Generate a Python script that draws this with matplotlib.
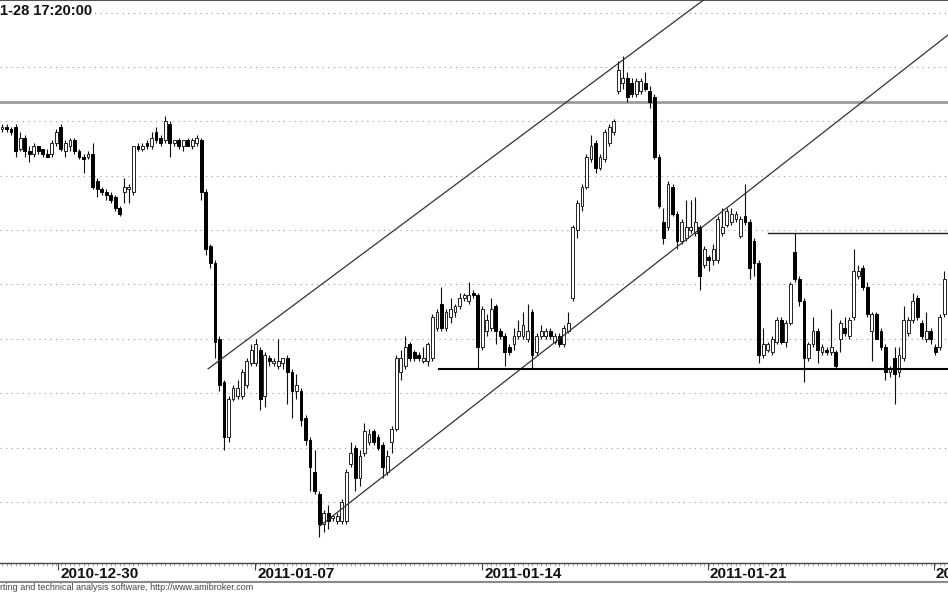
import matplotlib
matplotlib.use("Agg")
import matplotlib.pyplot as plt
from matplotlib.lines import Line2D
from matplotlib import transforms
import numpy as np

plt.rcParams['font.family'] = ['Liberation Sans', 'DejaVu Sans']

# intraday bars, values (grid every 20 pts)
opens = [
    2777, 2778, 2777, 2778, 2770, 2774, 2769, 2768, 2771, 2770,
    2768, 2768, 2772, 2778, 2769, 2771, 2773, 2769, 2767, 2767,
    2768, 2758, 2755, 2754, 2753, 2752, 2748, 2754, 2755, 2754,
    2771, 2770, 2772, 2771, 2776, 2774, 2773, 2779, 2772, 2773,
    2771, 2773, 2771, 2772, 2773, 2754, 2734, 2728, 2700, 2684,
    2664, 2678, 2679, 2679, 2683, 2691, 2691, 2696, 2679, 2693,
    2691, 2690, 2691, 2693, 2688, 2681, 2681, 2671, 2663, 2651,
    2643, 2632, 2636, 2634, 2633, 2633, 2633, 2654, 2660, 2649,
    2658, 2662, 2666, 2664, 2661, 2651, 2662, 2667, 2688, 2690,
    2698, 2695, 2694, 2692, 2692, 2693, 2704, 2713, 2704, 2708,
    2710, 2712, 2715, 2714, 2717, 2716, 2697, 2703, 2704, 2712,
    2703, 2701, 2697, 2698, 2701, 2701, 2700, 2710, 2695, 2701,
    2701, 2703, 2699, 2701, 2698, 2703, 2715, 2740, 2749, 2756,
    2766, 2772, 2763, 2766, 2772, 2776, 2791, 2794, 2796, 2794,
    2790, 2791, 2794, 2791, 2789, 2767, 2743, 2741, 2756, 2746,
    2736, 2737, 2740, 2739, 2741, 2727, 2730, 2729, 2729, 2739,
    2742, 2743, 2744, 2738, 2745, 2743, 2736, 2728, 2694, 2696,
    2695, 2699, 2707, 2699, 2706, 2732, 2722, 2714, 2693, 2698,
    2703, 2695, 2696, 2695, 2695, 2700, 2704, 2701, 2708, 2723,
    2726, 2719, 2703, 2709, 2703, 2697, 2688, 2693, 2688, 2693,
    2702, 2707, 2715, 2706, 2700, 2703, 2697, 2697, 2709,
]
highs = [
    2779, 2779, 2778, 2779, 2776, 2775, 2771, 2772, 2771, 2770,
    2770, 2773, 2777, 2779, 2773, 2774, 2774, 2770, 2768, 2769,
    2772, 2759, 2756, 2755, 2754, 2753, 2749, 2759, 2757, 2771,
    2772, 2772, 2773, 2776, 2778, 2775, 2782, 2780, 2773, 2774,
    2773, 2774, 2774, 2775, 2774, 2755, 2735, 2729, 2701, 2685,
    2679, 2683, 2685, 2689, 2693, 2698, 2700, 2697, 2695, 2694,
    2693, 2700, 2693, 2694, 2689, 2687, 2682, 2672, 2664, 2659,
    2644, 2637, 2639, 2635, 2636, 2641, 2652, 2662, 2661, 2659,
    2669, 2667, 2667, 2665, 2662, 2659, 2668, 2694, 2696, 2701,
    2699, 2696, 2695, 2697, 2699, 2709, 2711, 2719, 2711, 2715,
    2713, 2717, 2717, 2721, 2718, 2717, 2712, 2709, 2715, 2713,
    2704, 2702, 2698, 2704, 2707, 2710, 2713, 2711, 2702, 2705,
    2704, 2704, 2702, 2702, 2705, 2710, 2742, 2751, 2757, 2768,
    2775, 2773, 2768, 2777, 2779, 2781, 2802, 2804, 2798, 2796,
    2796, 2796, 2798, 2793, 2790, 2768, 2748, 2758, 2757, 2747,
    2744, 2751, 2751, 2752, 2742, 2734, 2731, 2735, 2745, 2748,
    2748, 2748, 2747, 2745, 2757, 2744, 2737, 2729, 2704, 2699,
    2701, 2708, 2708, 2707, 2721, 2739, 2723, 2715, 2699, 2708,
    2704, 2698, 2697, 2711, 2696, 2707, 2708, 2708, 2733, 2727,
    2727, 2721, 2710, 2710, 2704, 2698, 2690, 2697, 2697, 2712,
    2708, 2717, 2716, 2707, 2710, 2704, 2698, 2709, 2725,
]
lows = [
    2776, 2776, 2775, 2767, 2769, 2767, 2765, 2767, 2768, 2767,
    2767, 2767, 2771, 2769, 2767, 2769, 2768, 2766, 2761, 2766,
    2755, 2752, 2753, 2751, 2750, 2747, 2745, 2750, 2750, 2753,
    2769, 2769, 2770, 2770, 2772, 2771, 2772, 2767, 2771, 2770,
    2769, 2771, 2770, 2771, 2751, 2731, 2726, 2693, 2681, 2659,
    2662, 2677, 2678, 2678, 2682, 2690, 2690, 2674, 2675, 2690,
    2690, 2689, 2689, 2676, 2671, 2678, 2668, 2661, 2644, 2643,
    2627, 2629, 2630, 2633, 2632, 2632, 2632, 2653, 2644, 2646,
    2657, 2661, 2661, 2659, 2649, 2650, 2658, 2666, 2685, 2689,
    2692, 2692, 2692, 2691, 2690, 2692, 2703, 2703, 2703, 2706,
    2708, 2711, 2714, 2713, 2715, 2689, 2696, 2701, 2703, 2698,
    2700, 2690, 2694, 2696, 2700, 2700, 2699, 2689, 2694, 2700,
    2700, 2700, 2698, 2697, 2697, 2702, 2714, 2737, 2747, 2755,
    2765, 2761, 2762, 2765, 2771, 2775, 2790, 2792, 2787, 2789,
    2789, 2790, 2791, 2785, 2766, 2748, 2735, 2740, 2745, 2733,
    2735, 2736, 2739, 2738, 2718, 2726, 2725, 2727, 2728, 2738,
    2741, 2742, 2743, 2737, 2742, 2722, 2723, 2691, 2693, 2695,
    2694, 2698, 2698, 2697, 2705, 2721, 2712, 2684, 2692, 2697,
    2691, 2694, 2694, 2694, 2689, 2695, 2701, 2700, 2707, 2722,
    2718, 2708, 2692, 2700, 2696, 2685, 2686, 2676, 2686, 2692,
    2701, 2706, 2707, 2700, 2699, 2698, 2694, 2696, 2708,
]
closes = [
    2778, 2777, 2776, 2769, 2774, 2769, 2768, 2771, 2769, 2768,
    2767, 2772, 2776, 2770, 2772, 2773, 2769, 2767, 2766, 2768,
    2756, 2755, 2754, 2753, 2751, 2748, 2746, 2756, 2756, 2771,
    2770, 2771, 2771, 2774, 2773, 2772, 2780, 2772, 2773, 2771,
    2773, 2771, 2773, 2774, 2754, 2733, 2728, 2699, 2683, 2664,
    2678, 2682, 2682, 2688, 2692, 2696, 2698, 2678, 2694, 2692,
    2692, 2692, 2693, 2688, 2681, 2683, 2670, 2663, 2653, 2644,
    2632, 2636, 2633, 2635, 2635, 2640, 2651, 2658, 2649, 2657,
    2666, 2665, 2662, 2660, 2653, 2657, 2667, 2693, 2693, 2697,
    2693, 2693, 2693, 2693, 2698, 2708, 2710, 2704, 2710, 2711,
    2712, 2715, 2716, 2716, 2716, 2697, 2711, 2707, 2711, 2703,
    2701, 2695, 2695, 2701, 2703, 2705, 2703, 2694, 2701, 2703,
    2703, 2701, 2701, 2698, 2704, 2706, 2741, 2750, 2756, 2767,
    2771, 2763, 2767, 2776, 2778, 2780, 2799, 2796, 2789, 2790,
    2795, 2795, 2792, 2787, 2767, 2749, 2737, 2757, 2746, 2736,
    2743, 2741, 2741, 2743, 2723, 2733, 2729, 2733, 2744, 2741,
    2747, 2746, 2746, 2744, 2743, 2726, 2728, 2694, 2698, 2698,
    2700, 2707, 2699, 2706, 2720, 2722, 2714, 2693, 2698, 2703,
    2696, 2697, 2695, 2697, 2690, 2706, 2702, 2707, 2725, 2725,
    2719, 2709, 2709, 2700, 2697, 2688, 2689, 2687, 2694, 2707,
    2707, 2714, 2708, 2701, 2703, 2700, 2695, 2708, 2722,
]

# date axis: bar where each labelled session begins
date_labels = ['2010-12-30', '2011-01-07', '2011-01-14', '2011-01-21', '2011-01-28']
date_bars = [12.4, 55.9, 106, 155.8, 205.7]

# hand drawn studies (bar index, price)
upper_channel_x = [45.5, 160]
upper_channel_y = [2689, 2831]
lower_channel_x = [70, 209]
lower_channel_y = [2631, 2812]
support_level = 2689
support_from = 96.5
resistance_level = 2739
resistance_from = 169
gray_level = 2787

fig = plt.figure(figsize=(9.48, 5.93), dpi=100)
ax = fig.add_axes([0, 30 / 593, 1, 563 / 593])

o = np.array(opens, dtype=float)
h = np.array(highs, dtype=float)
l = np.array(lows, dtype=float)
c = np.array(closes, dtype=float)
x = np.arange(len(o))
up = c >= o

body_low = np.minimum(o, c)
body_h = np.maximum(np.abs(c - o), 0.4)

# wicks then bodies
ax.vlines(x, l, h, color='#111111', lw=0.8, zorder=3)
ax.bar(x[up], body_h[up], bottom=body_low[up], width=0.62,
       color='white', edgecolor='#222222', lw=0.7, zorder=4)
ax.bar(x[~up], body_h[~up], bottom=body_low[~up], width=0.62,
       color='black', edgecolor='black', lw=0.7, zorder=4)

# studies
ax.axhline(gray_level, color='#9c9c9c', lw=2.0, zorder=2)
ax.plot(upper_channel_x, upper_channel_y, color='#333333', lw=0.9, zorder=5)
ax.plot(lower_channel_x, lower_channel_y, color='#333333', lw=0.9, zorder=5)
ax.plot([support_from, len(o) + 5], [support_level, support_level],
        color='black', lw=1.5, zorder=5)
ax.plot([resistance_from, len(o) + 5], [resistance_level, resistance_level],
        color='#222222', lw=1.0, zorder=5)

ax.set_xlim(-0.44, 208.8)
ax.set_ylim(2617.6, 2824.6)

# dotted price grid
ax.set_yticks(np.arange(2640, 2821, 20))
ax.yaxis.grid(True, color='#9a9a9a', lw=0.8, ls=(0, (1, 4)))
ax.set_axisbelow(True)
ax.tick_params(axis='y', length=0, labelleft=False)

ax.set_xticks(date_bars)
ax.set_xticklabels([])
ax.set_xticks(x, minor=True)
ax.tick_params(axis='x', which='major', length=5, width=0.8, color='#444444', direction='out')
ax.tick_params(axis='x', which='minor', length=2, width=0.5, color='#888888', direction='out')

lab_tr = transforms.offset_copy(ax.get_xaxis_transform(), fig=fig, x=2, y=0, units='dots')
for xb, lab in zip(date_bars, date_labels):
    ax.text(xb, -0.0195, lab, transform=lab_tr, ha='left', va='center',
            fontsize=11, fontweight='bold', color='#111111', clip_on=False)

for side in ['left', 'right']:
    ax.spines[side].set_visible(False)
ax.spines['top'].set_color('#555555')
ax.spines['top'].set_linewidth(1.5)
ax.spines['bottom'].set_color('#444444')
ax.spines['bottom'].set_linewidth(1.0)

# bottom border of the date strip
fig.add_artist(Line2D([0, 1], [1 - 582 / 593] * 2, transform=fig.transFigure,
                      color='#8a8a8a', lw=1.5))

fig.text(0, 1 - 11 / 593, '1-28 17:20:00', ha='left', va='center',
         fontsize=10.5, fontweight='bold', color='#111111')
fig.text(0, 1 - 588 / 593,
         'rting and technical analysis software, http://www.amibroker.com',
         ha='left', va='center', fontsize=6.5, color='#444444')

fig.savefig('out.png', dpi=100)
